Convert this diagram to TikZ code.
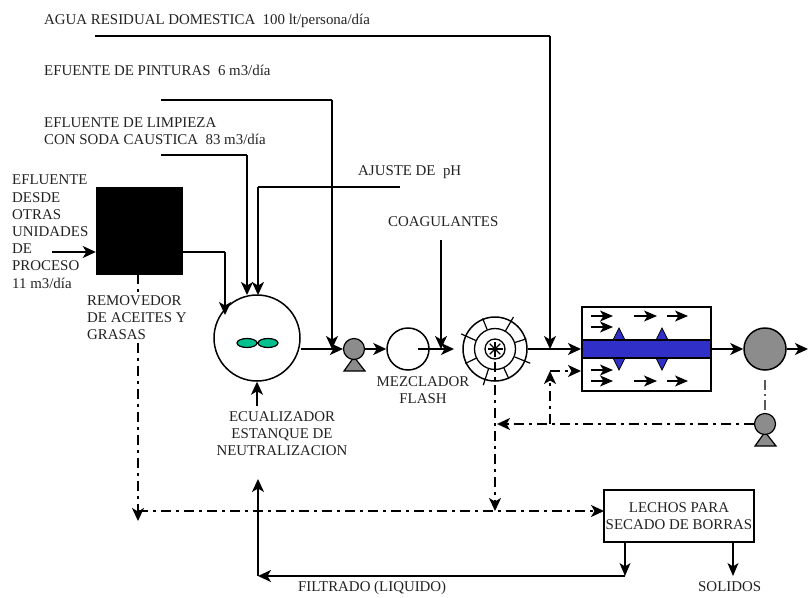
\documentclass[tikz,border=0pt]{standalone}
\usepackage{fontspec}
\setmainfont{Liberation Serif}
\usetikzlibrary{arrows.meta,calc}
\definecolor{txt}{HTML}{222222}
\definecolor{pgray}{HTML}{8C8C8C}
\definecolor{tgreen}{HTML}{00C090}
\definecolor{tblue}{HTML}{3030C8}
\tikzset{
 flow/.style={line width=1.7pt,-{Stealth[length=13pt,width=12pt,inset=3.5pt]}},
 plain/.style={line width=1.7pt},
 recyc/.style={line width=1.7pt,dash pattern=on 10pt off 5pt on 3pt off 5pt},
 recycarrow/.style={recyc,-{Stealth[length=13pt,width=12pt,inset=3.5pt]}},
 lab/.style={font=\fontsize{14.9}{17.2}\selectfont,text=txt,inner sep=0pt,align=left,anchor=north west},
 labc/.style={font=\fontsize{14.9}{17.2}\selectfont,text=txt,inner sep=0pt,align=center},
 small/.style={line width=1.3pt,-{Stealth[length=13pt,width=11pt,inset=3.5pt]}},
 disc/.style={circle,draw,line width=1.5pt,inner sep=0pt,minimum size=#1},
 pumphead/.style={circle,draw,line width=1.2pt,fill=pgray,inner sep=0pt,minimum size=21pt},
 pumpbase/.style={draw,line width=1.2pt,fill=pgray},
}
\begin{document}
\begin{tikzpicture}[x=1pt,y=-1pt]
\useasboundingbox (0,0) rectangle (808,597);
% free ends
\coordinate (agua0) at (95,36);
\coordinate (agua1) at (550,36);
\coordinate (aguaJ) at (550,349);
\coordinate (pint0) at (161,100);
\coordinate (pint1) at (332,100);
\coordinate (pintJ) at (332,349);
\coordinate (p1in) at (343,349);
\coordinate (limp0) at (161,155);
\coordinate (limp1) at (247,155);
\coordinate (limp2) at (247,295);
\coordinate (aj0) at (400,187);
\coordinate (aj1) at (258,187);
\coordinate (aj2) at (258,295);
\coordinate (coag0) at (441,240);
\coordinate (coagJ) at (441,349);
\coordinate (ein) at (52,252);
\coordinate (tout) at (182,252);
\coordinate (tcor) at (225,252);
\coordinate (tinn) at (225,315);
\coordinate (tbot) at (257,406);
\coordinate (out) at (808,349);
\coordinate (sedin) at (581,349);
\coordinate (sedin2) at (581,371);
\coordinate (r1) at (550,371);
\coordinate (r2) at (550,424);
\coordinate (r3) at (497,424);
\coordinate (d0) at (138,274);
\coordinate (d1) at (138,521);
\coordinate (d2) at (138,511);
\coordinate (bedw) at (604,511);
\coordinate (f0) at (495,362);
\coordinate (f1) at (495,511);
\coordinate (b1) at (625,542);
\coordinate (b2) at (625,576);
\coordinate (b3) at (258,576);
\coordinate (b4) at (258,479);
\coordinate (s1) at (733,542);
\coordinate (s2) at (733,576);
\coordinate (mixin) at (418,349);
\coordinate (mixout) at (454,349);
% equipment
\node[draw,fill=black,minimum width=86pt,minimum height=87pt,inner sep=0pt] (rem) at (139,230.5) {};
\draw[recycarrow] (d0) -- (d1);
\node[lab,fill=white] (trem) at (87,295) {REMOVEDOR\\DE ACEITES Y\\GRASAS};
\node[disc=86pt] (tank) at (257,338) {};
\fill[tgreen,draw=black,line width=1.2pt] (247,343) ellipse (10 and 4.5) (268,343) ellipse (10 and 4.5);
\draw[pumpbase] (354,357) -- (365,371) -- (344,371) -- cycle;
\node[pumphead] (p1) at (354,349) {};
\node[disc=42pt] (mix) at (408,349) {};
\node[disc=64pt] (floc) at (495,349) {};
\node[disc=41pt,line width=1.3pt] (flocm) at (495,349) {};
\node[disc=20pt,line width=1.3pt] (floci) at (495,349) {};
\foreach \a/\r in {-112/33,-60/37,-18/33,22/38,65/33,108/38,154/33,204/37}
  \draw[line width=1.2pt] ($(floc.center)+(\a:21)$) -- ($(floc.center)+(\a:\r)$);
\foreach \a in {0,45,...,315}
  \draw[line width=1.1pt] (floc.center) -- ++(\a:7.5);
\node[draw,line width=1.5pt,minimum width=129pt,minimum height=84pt,inner sep=0pt] (sed) at (646.5,349) {};
\foreach \x in {619,662} {
  \fill[tblue,draw=black,line width=.8pt] (\x-6,340) -- (\x,328) -- (\x+6,340) -- cycle;
  \fill[tblue,draw=black,line width=.8pt] (\x-6,358) -- (\x,370) -- (\x+6,358) -- cycle;
}
\node[draw,fill=tblue,line width=1.4pt,minimum width=129pt,minimum height=18pt,inner sep=0pt] (bar) at (646.5,349) {};
\foreach \xa/\xb/\y in {591/613/316,591/613/327,634/657/316,667/688/316,591/613/370,591/613/381,634/657/381,667/688/381}
  \draw[small] (\xa,\y) -- (\xb,\y);
\node[disc=42pt,fill=pgray] (clar) at (765,349) {};
\draw[pumpbase] (765,432) -- (776,446) -- (755,446) -- cycle;
\node[pumphead] (p2) at (765,424) {};
\node[draw,line width=1.7pt,minimum width=150pt,minimum height=52pt,inner sep=0pt] (bed) at (679,516) {};
\node[labc] (tbed) at (679,516) {LECHOS PARA\\SECADO DE BORRAS};
% labels
\node[lab] (tagua) at (44,14) {AGUA RESIDUAL DOMESTICA\ \ 100 lt/persona/día};
\node[lab] (tpint) at (44,65) {EFUENTE DE PINTURAS\ \ 6 m3/día};
\node[lab] (tlimp) at (44,117) {EFLUENTE DE LIMPIEZA\\CON SODA CAUSTICA\ \ 83 m3/día};
\node[lab] (tajus) at (358,165) {AJUSTE DE\ \ pH};
\node[lab] (tcoag) at (388,216) {COAGULANTES};
\node[lab] (tefl) at (12,175) {EFLUENTE\\DESDE\\OTRAS\\UNIDADES\\DE\\PROCESO\\11 m3/día};
\node[labc,anchor=north] (tecu) at (282,411) {ECUALIZADOR\\ESTANQUE DE\\NEUTRALIZACION};
\node[labc,anchor=north] (tmez) at (423,376) {MEZCLADOR\\FLASH};
\node[lab] (tfil) at (298,581) {FILTRADO (LIQUIDO)};
\node[lab] (tsol) at (698,581) {SOLIDOS};
% connectors
\draw[plain] (agua0) -- (agua1);
\draw[flow] (agua1) -- (aguaJ);
\draw[plain] (pint0) -- (pint1);
\draw[flow] (pint1) -- (pintJ);
\draw[plain] (limp0) -- (limp1);
\draw[flow] (limp1) -- (limp2);
\draw[plain] (aj0) -- (aj1);
\draw[flow] (aj1) -- (aj2);
\draw[flow] (coag0) -- (coagJ);
\draw[flow] (ein) -- (rem.west |- ein);
\draw[plain] (tout) -- (tcor);
\draw[flow] (tcor) -- (tinn);
\draw[flow] (tbot) -- (tank.south);
\draw[flow] (tank.east |- p1in) -- (p1.west);
\draw[flow] (p1.east) -- (mix.west);
\draw[flow] (mixin) -- (mixout);
\draw[flow] (floc.east) -- (sedin);
\draw[flow] (sed.east) -- (clar.west);
\draw[flow] (clar.east) -- (out);
\draw[small] (b1) -- (b2);
\draw[flow] (b2) -- (b3);
\draw[flow] (b3) -- (b4);
\draw[small] (s1) -- (s2);
\draw[recycarrow] (d2) -- (bedw);
\draw[recycarrow] (f0) -- (f1);
\draw[recycarrow] (p2.west) -- (r3);
\draw[recycarrow] (r2) -- (r1);
\draw[recycarrow] (r1) -- (sedin2);
\draw[black!65,line width=1.1pt,dash pattern=on 10pt off 4pt on 2pt off 4pt] (765,380) -- (p2.north);
\end{tikzpicture}
\end{document}
